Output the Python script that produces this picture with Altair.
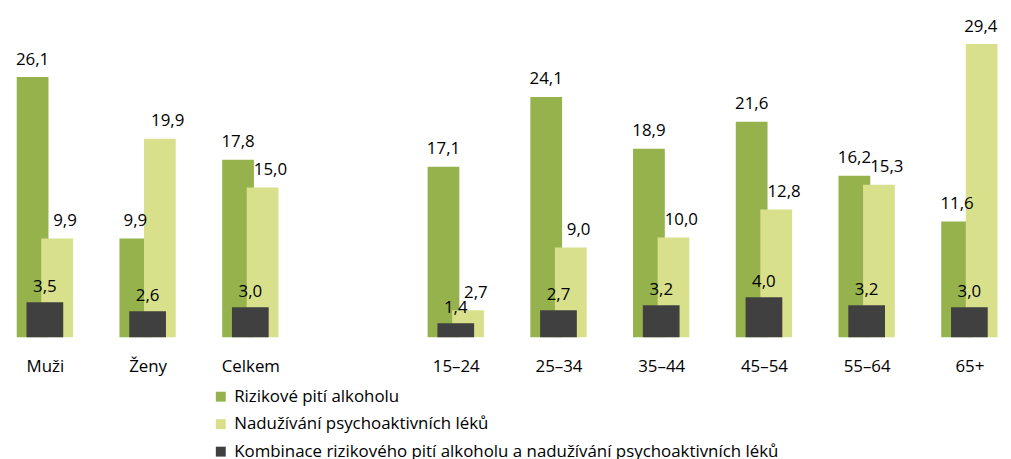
import altair as alt
import pandas as pd

categories = ["Muži", "Ženy", "Celkem", "", "15–24", "25–34", "35–44", "45–54", "55–64", "65+"]
series = [
    "Rizikové pití alkoholu",
    "Nadužívání psychoaktivních léků",
    "Kombinace rizikového pití alkoholu a nadužívání psychoaktivních léků",
]
alcohol = [26.1, 9.9, 17.8, None, 17.1, 24.1, 18.9, 21.6, 16.2, 11.6]
drugs = [9.9, 19.9, 15.0, None, 2.7, 9.0, 10.0, 12.8, 15.3, 29.4]
combo = [3.5, 2.6, 3.0, None, 1.4, 2.7, 3.2, 4.0, 3.2, 3.0]
colors = ["#95B24C", "#D8E08B", "#404040"]

FONT = "Open Sans"
W, H = 995, 330
STEP = 104.6
OFF = 12.5 / STEP  # side offset of the two wide bars, in category units

rows = []
for s_i, (name, vals) in enumerate(zip(series, [alcohol, drugs, combo])):
    for i, v in enumerate(vals):
        if v is None:
            continue
        rows.append({
            "idx": i,
            "series": name,
            "s": s_i,
            "value": v,
            "label": f"{v:.1f}".replace(".", ","),
        })
df = pd.DataFrame(rows)

x0 = -32.5 / STEP
x1 = x0 + W / STEP
xscale = alt.Scale(domain=[x0, x1], nice=False, zero=False)
yscale = alt.Scale(domain=[0, H / 10.05], nice=False)

label_map = "[" + ",".join("'" + c + "'" for c in categories) + "]"
tick_vals = [i for i, c in enumerate(categories) if c]

xaxis = alt.Axis(
    values=tick_vals,
    labelExpr=label_map + "[datum.value]",
    domain=False, ticks=False, grid=False, title=None,
    labelFont=FONT, labelFontSize=17, labelColor="#000000",
    labelPadding=22,
)

color = alt.Color(
    "series:N",
    scale=alt.Scale(domain=series, range=colors),
    sort=series,
    legend=alt.Legend(
        orient="none", legendX=206, legendY=381.5, direction="vertical",
        title=None, symbolType="square", symbolSize=100, symbolStrokeWidth=0,
        labelFont=FONT, labelFontSize=17, labelColor="#000000",
        labelOffset=5, rowPadding=9.7, padding=0, labelLimit=800,
    ),
)

LAB_SHIFT = 8 / STEP          # light-series labels sit a little right of their bar
LAB_MAX = x0 + 985.5 / STEP   # keep labels inside the chart's right edge

base = alt.Chart(df).transform_calculate(
    pos=f"datum.idx + (datum.s == 0 ? {-OFF} : (datum.s == 1 ? {OFF} : 0))"
).transform_calculate(
    lpos=f"min(datum.pos + (datum.s == 1 ? {LAB_SHIFT} : 0), {LAB_MAX})"
)

wide = base.transform_filter("datum.s < 2").mark_bar(size=32).encode(
    x=alt.X("pos:Q", scale=xscale, axis=xaxis),
    y=alt.Y("value:Q", scale=yscale, axis=None),
    color=color,
    order=alt.Order("s:Q"),
)
narrow = base.transform_filter("datum.s == 2").mark_bar(size=37).encode(
    x=alt.X("pos:Q", scale=xscale),
    y=alt.Y("value:Q", scale=yscale),
    color=color,
)
labels_wide = base.transform_filter("datum.s < 2").mark_text(
    font=FONT, fontSize=17, color="#000000", baseline="alphabetic", dy=-12.5
).encode(
    x=alt.X("lpos:Q", scale=xscale),
    y=alt.Y("value:Q", scale=yscale),
    text="label:N",
)
labels_narrow = base.transform_filter("datum.s == 2").mark_text(
    font=FONT, fontSize=17, color="#000000", baseline="alphabetic", dy=-10
).encode(
    x=alt.X("lpos:Q", scale=xscale),
    y=alt.Y("value:Q", scale=yscale),
    text="label:N",
)

chart = alt.layer(wide, narrow, labels_wide, labels_narrow).properties(
    width=W, height=H,
    autosize=alt.AutoSizeParams(type="none"),
    padding={"left": 0, "top": 0, "right": 8, "bottom": 122},
).configure_view(stroke=None)

chart.save("out.html", embed_options={"renderer": "svg", "actions": False})
